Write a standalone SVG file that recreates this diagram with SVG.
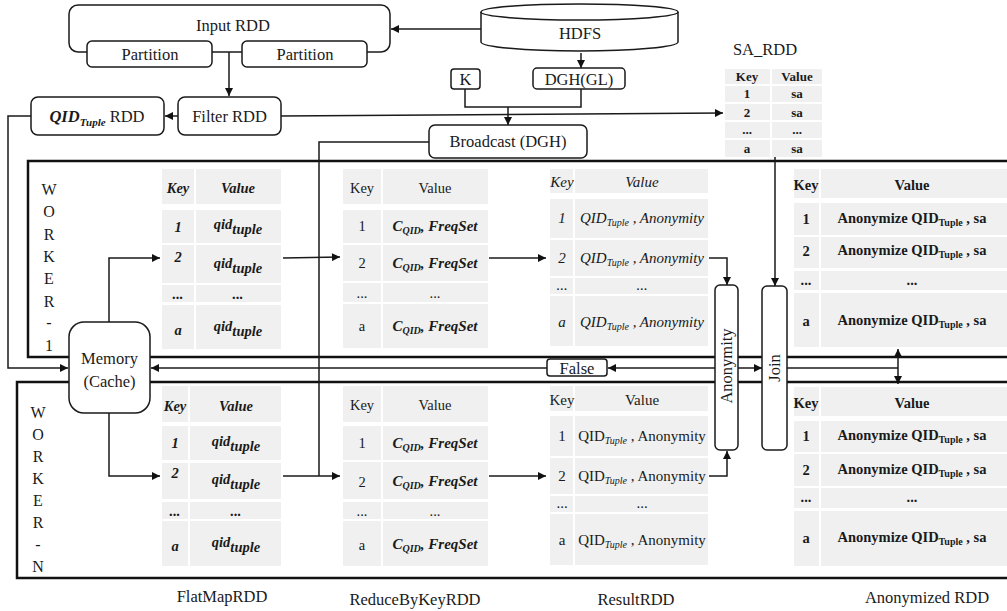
<svg xmlns="http://www.w3.org/2000/svg" width="1007" height="611" viewBox="0 0 1007 611">
<defs>
<marker id="ah" viewBox="0 0 10 10" refX="10" refY="5" markerWidth="9" markerHeight="8" markerUnits="userSpaceOnUse" orient="auto-start-reverse"><path d="M0,0 L10,5 L0,10 z" fill="#111"/></marker>
<style>
text{font-family:"Liberation Serif","DejaVu Serif",serif;fill:#1a1a1a;text-anchor:middle}
.lbl{font-size:16.5px}
.box{fill:#fff;stroke:#1a1a1a;stroke-width:1.5}
.wk{fill:none;stroke:#111;stroke-width:2.5}
.c{fill:#f0f0f0}
.t{font-size:14.5px}
.b{font-weight:bold}
.i{font-style:italic}
.bi{font-weight:bold;font-style:italic}
.ln{fill:none;stroke:#1a1a1a;stroke-width:1.5}
.ar{fill:none;stroke:#1a1a1a;stroke-width:1.5;marker-end:url(#ah)}
.wl{font-size:16px}
.cap{font-size:16.5px}
</style>
</defs>

<!-- worker frames -->
<g id="worker-1"><rect class="wk" x="28" y="161" width="1000" height="196"/>
<g class="wl"><text x="49" y="195" class="wl">W</text><text x="49" y="217" class="wl">O</text><text x="49" y="240" class="wl">R</text><text x="49" y="262" class="wl">K</text><text x="49" y="284" class="wl">E</text><text x="49" y="307" class="wl">R</text><text x="49" y="328" class="wl">-</text><text x="49" y="351" class="wl">1</text></g></g>
<g id="worker-n"><rect class="wk" x="17" y="382" width="1010" height="196"/>
<g><text x="38" y="418" class="wl">W</text><text x="38" y="440" class="wl">O</text><text x="38" y="462" class="wl">R</text><text x="38" y="484" class="wl">K</text><text x="38" y="506" class="wl">E</text><text x="38" y="528" class="wl">R</text><text x="38" y="550" class="wl">-</text><text x="38" y="572" class="wl">N</text></g></g>

<!-- top nodes -->
<g id="input-rdd"><rect class="box" x="69" y="5" width="321" height="47" rx="9"/><text class="lbl" x="233" y="31">Input RDD</text>
<rect class="box" x="87" y="41" width="125" height="26" rx="5"/><text class="lbl" x="150" y="60">Partition</text>
<rect class="box" x="242" y="41" width="125" height="26" rx="5"/><text class="lbl" x="305" y="60">Partition</text></g>
<g id="hdfs"><path class="box" d="M481,12 V42 A98.5,9 0 0 0 678,42 V12"/><ellipse class="box" cx="579.5" cy="12" rx="98.5" ry="8"/><text class="lbl" x="580" y="39">HDFS</text></g>
<g id="k"><rect class="box" x="451" y="69" width="29" height="20" rx="3"/><text class="lbl" x="465.5" y="85">K</text></g>
<g id="dgh"><rect class="box" x="533" y="68" width="92" height="21" rx="4"/><text class="lbl" x="579" y="85">DGH(GL)</text></g>
<g id="broadcast"><rect class="box" x="429" y="125" width="158" height="33" rx="6"/><text class="lbl" x="508" y="147">Broadcast (DGH)</text></g>
<g id="filter-rdd"><rect class="box" x="178" y="97" width="103" height="38" rx="7"/><text class="lbl" x="229.5" y="122">Filter RDD</text></g>
<g id="qid-rdd"><rect class="box" x="31" y="97" width="133" height="38" rx="7"/><text class="lbl" x="97" y="122"><tspan class="bi">QID</tspan><tspan class="bi" font-size="11" dy="4">Tuple</tspan><tspan dy="-4"> RDD</tspan></text></g>

<g id="sa-rdd"><text class="lbl" x="765" y="55">SA_RDD</text>
<rect class="c" x="725" y="69" width="45" height="15"/><rect class="c" x="772" y="69" width="50" height="15"/>
<rect class="c" x="725" y="86" width="45" height="16"/><rect class="c" x="772" y="86" width="50" height="16"/>
<rect class="c" x="725" y="104" width="45" height="16"/><rect class="c" x="772" y="104" width="50" height="16"/>
<rect class="c" x="725" y="122" width="45" height="16"/><rect class="c" x="772" y="122" width="50" height="16"/>
<rect class="c" x="725" y="140" width="45" height="17"/><rect class="c" x="772" y="140" width="50" height="17"/>
<g font-size="13"><text x="747" y="81" class="b">Key</text><text x="797" y="81" class="b">Value</text>
<text x="747" y="98" class="b">1</text><text x="797" y="98" class="b">sa</text>
<text x="747" y="117" class="b">2</text><text x="797" y="117" class="b">sa</text>
<text x="747" y="134" class="b">...</text><text x="797" y="134" class="b">...</text>
<text x="747" y="153" class="b">a</text><text x="797" y="153" class="b">sa</text></g></g>

<!-- Worker-1 tables -->
<g id="flatmap-1">
<rect class="c" x="162" y="169" width="32" height="35"/><rect class="c" x="196" y="169" width="85" height="35"/>
<rect class="c" x="162" y="210" width="32" height="33"/><rect class="c" x="196" y="210" width="85" height="33"/>
<rect class="c" x="162" y="245" width="32" height="38"/><rect class="c" x="196" y="245" width="85" height="38"/>
<rect class="c" x="162" y="285" width="32" height="17"/><rect class="c" x="196" y="285" width="85" height="17"/>
<rect class="c" x="162" y="305" width="32" height="44"/><rect class="c" x="196" y="305" width="85" height="44"/>
<g class="t bi"><text x="178" y="193">Key</text><text x="238" y="193">Value</text>
<text x="178" y="232">1</text><text x="238" y="229">qid<tspan dy="5">tuple</tspan></text>
<text x="178" y="262">2</text><text x="238" y="268">qid<tspan dy="5">tuple</tspan></text>
<text x="178" y="299">...</text><text x="238" y="299">...</text>
<text x="178" y="335">a</text><text x="238" y="331">qid<tspan dy="5">tuple</tspan></text></g></g>

<g id="reduce-1">
<rect class="c" x="343" y="169" width="38" height="35"/><rect class="c" x="383" y="169" width="105" height="35"/>
<rect class="c" x="343" y="210" width="38" height="33"/><rect class="c" x="383" y="210" width="105" height="33"/>
<rect class="c" x="343" y="245" width="38" height="36"/><rect class="c" x="383" y="245" width="105" height="36"/>
<rect class="c" x="343" y="283" width="38" height="19"/><rect class="c" x="383" y="283" width="105" height="19"/>
<rect class="c" x="343" y="304" width="38" height="44"/><rect class="c" x="383" y="304" width="105" height="44"/>
<g class="t"><text x="362" y="193">Key</text><text x="435" y="193">Value</text>
<text x="362" y="231">1</text><text x="362" y="268">2</text><text x="362" y="298">...</text><text x="362" y="331">a</text><text x="435" y="298">...</text></g>
<g class="bi" font-size="15"><text x="435" y="231">C<tspan font-size="10" dy="3">QID</tspan><tspan dy="-3">, FreqSet</tspan></text>
<text x="435" y="268">C<tspan font-size="10" dy="3">QID</tspan><tspan dy="-3">, FreqSet</tspan></text>
<text x="435" y="331">C<tspan font-size="10" dy="3">QID</tspan><tspan dy="-3">, FreqSet</tspan></text></g></g>

<g id="result-1">
<rect class="c" x="550" y="169" width="23" height="24"/><rect class="c" x="575" y="169" width="133" height="24"/>
<rect class="c" x="550" y="199" width="23" height="39"/><rect class="c" x="575" y="199" width="133" height="39"/>
<rect class="c" x="550" y="240" width="23" height="36"/><rect class="c" x="575" y="240" width="133" height="36"/>
<rect class="c" x="550" y="278" width="23" height="16"/><rect class="c" x="575" y="278" width="133" height="16"/>
<rect class="c" x="550" y="296" width="23" height="50"/><rect class="c" x="575" y="296" width="133" height="50"/>
<g class="i" font-size="15"><text x="562" y="187">Key</text><text x="642" y="187">Value</text>
<text x="562" y="223">1</text><text x="642" y="223">QID<tspan font-size="10" dy="3">Tuple</tspan><tspan dy="-3"> , Anonymity</tspan></text>
<text x="562" y="263">2</text><text x="642" y="263">QID<tspan font-size="10" dy="3">Tuple</tspan><tspan dy="-3"> , Anonymity</tspan></text>
<text x="562" y="290">...</text><text x="642" y="290">...</text>
<text x="562" y="327">a</text><text x="642" y="327">QID<tspan font-size="10" dy="3">Tuple</tspan><tspan dy="-3"> , Anonymity</tspan></text></g></g>

<g id="anon-1">
<rect class="c" x="794" y="169" width="25" height="29"/><rect class="c" x="821" y="169" width="186" height="29"/>
<rect class="c" x="794" y="203" width="25" height="32"/><rect class="c" x="821" y="203" width="186" height="32"/>
<rect class="c" x="794" y="237" width="25" height="31"/><rect class="c" x="821" y="237" width="186" height="31"/>
<rect class="c" x="794" y="271" width="25" height="19"/><rect class="c" x="821" y="271" width="186" height="19"/>
<rect class="c" x="794" y="293" width="25" height="54"/><rect class="c" x="821" y="293" width="186" height="54"/>
<g class="t b"><text x="806" y="190">Key</text><text x="912" y="190">Value</text>
<text x="806" y="224">1</text><text x="912" y="223">Anonymize QID<tspan font-size="10" dy="3">Tuple</tspan><tspan dy="-3"> , sa</tspan></text>
<text x="806" y="256">2</text><text x="912" y="255">Anonymize QID<tspan font-size="10" dy="3">Tuple</tspan><tspan dy="-3"> , sa</tspan></text>
<text x="806" y="285">...</text><text x="912" y="285">...</text>
<text x="806" y="326">a</text><text x="912" y="325">Anonymize QID<tspan font-size="10" dy="3">Tuple</tspan><tspan dy="-3"> , sa</tspan></text></g></g>

<!-- Worker-N tables -->
<g id="flatmap-n">
<rect class="c" x="162" y="386" width="26" height="36"/><rect class="c" x="190" y="386" width="91" height="36"/>
<rect class="c" x="162" y="426" width="26" height="34"/><rect class="c" x="190" y="426" width="91" height="34"/>
<rect class="c" x="162" y="463" width="26" height="36"/><rect class="c" x="190" y="463" width="91" height="36"/>
<rect class="c" x="162" y="502" width="26" height="17"/><rect class="c" x="190" y="502" width="91" height="17"/>
<rect class="c" x="162" y="521" width="26" height="45"/><rect class="c" x="190" y="521" width="91" height="45"/>
<g class="t bi"><text x="175" y="411">Key</text><text x="236" y="411">Value</text>
<text x="175" y="448">1</text><text x="236" y="446">qid<tspan dy="5">tuple</tspan></text>
<text x="175" y="478">2</text><text x="236" y="484">qid<tspan dy="5">tuple</tspan></text>
<text x="175" y="516">...</text><text x="236" y="516">...</text>
<text x="175" y="551">a</text><text x="236" y="547">qid<tspan dy="5">tuple</tspan></text></g></g>

<g id="reduce-n">
<rect class="c" x="343" y="386" width="38" height="36"/><rect class="c" x="383" y="386" width="105" height="36"/>
<rect class="c" x="343" y="426" width="38" height="34"/><rect class="c" x="383" y="426" width="105" height="34"/>
<rect class="c" x="343" y="462" width="38" height="37"/><rect class="c" x="383" y="462" width="105" height="37"/>
<rect class="c" x="343" y="502" width="38" height="17"/><rect class="c" x="383" y="502" width="105" height="17"/>
<rect class="c" x="343" y="521" width="38" height="45"/><rect class="c" x="383" y="521" width="105" height="45"/>
<g class="t"><text x="362" y="410">Key</text><text x="435" y="410">Value</text>
<text x="362" y="448">1</text><text x="362" y="487">2</text><text x="362" y="516">...</text><text x="362" y="550">a</text><text x="435" y="516">...</text></g>
<g class="bi" font-size="15"><text x="435" y="448">C<tspan font-size="10" dy="3">QID</tspan><tspan dy="-3">, FreqSet</tspan></text>
<text x="435" y="486">C<tspan font-size="10" dy="3">QID</tspan><tspan dy="-3">, FreqSet</tspan></text>
<text x="435" y="549">C<tspan font-size="10" dy="3">QID</tspan><tspan dy="-3">, FreqSet</tspan></text></g></g>

<g id="result-n">
<rect class="c" x="550" y="386" width="23" height="25"/><rect class="c" x="575" y="386" width="133" height="25"/>
<rect class="c" x="550" y="416" width="23" height="40"/><rect class="c" x="575" y="416" width="133" height="40"/>
<rect class="c" x="550" y="458" width="23" height="36"/><rect class="c" x="575" y="458" width="133" height="36"/>
<rect class="c" x="550" y="496" width="23" height="16"/><rect class="c" x="575" y="496" width="133" height="16"/>
<rect class="c" x="550" y="514" width="23" height="51"/><rect class="c" x="575" y="514" width="133" height="51"/>
<g font-size="15"><text x="562" y="405">Key</text><text x="642" y="405">Value</text>
<text x="562" y="441">1</text><text x="642" y="441">QID<tspan class="i" font-size="10" dy="3">Tuple</tspan><tspan dy="-3"> , Anonymity</tspan></text>
<text x="562" y="481">2</text><text x="642" y="481">QID<tspan class="i" font-size="10" dy="3">Tuple</tspan><tspan dy="-3"> , Anonymity</tspan></text>
<text x="562" y="508">...</text><text x="642" y="508">...</text>
<text x="562" y="545">a</text><text x="642" y="545">QID<tspan class="i" font-size="10" dy="3">Tuple</tspan><tspan dy="-3"> , Anonymity</tspan></text></g></g>

<g id="anon-n">
<rect class="c" x="794" y="387" width="25" height="29"/><rect class="c" x="821" y="387" width="186" height="29"/>
<rect class="c" x="794" y="421" width="25" height="31"/><rect class="c" x="821" y="421" width="186" height="31"/>
<rect class="c" x="794" y="454" width="25" height="32"/><rect class="c" x="821" y="454" width="186" height="32"/>
<rect class="c" x="794" y="488" width="25" height="20"/><rect class="c" x="821" y="488" width="186" height="20"/>
<rect class="c" x="794" y="511" width="25" height="55"/><rect class="c" x="821" y="511" width="186" height="55"/>
<g class="t b"><text x="806" y="408">Key</text><text x="912" y="408">Value</text>
<text x="806" y="441">1</text><text x="912" y="440">Anonymize QID<tspan font-size="10" dy="3">Tuple</tspan><tspan dy="-3"> , sa</tspan></text>
<text x="806" y="475">2</text><text x="912" y="474">Anonymize QID<tspan font-size="10" dy="3">Tuple</tspan><tspan dy="-3"> , sa</tspan></text>
<text x="806" y="502">...</text><text x="912" y="502">...</text>
<text x="806" y="543">a</text><text x="912" y="542">Anonymize QID<tspan font-size="10" dy="3">Tuple</tspan><tspan dy="-3"> , sa</tspan></text></g></g>

<!-- connectors -->
<g id="connectors">
<path class="ar" d="M481,29 H391"/>
<path class="ar" d="M229,52 V96"/>
<path class="ar" d="M178,116 H165"/>
<path class="ar" d="M581,53 V68"/>
<path class="ln" d="M465,89 V107 H581 V89"/>
<path class="ar" d="M508,107 V125"/>
<path class="ar" d="M281,116 L723,113"/>
<path class="ar" d="M31,116 H8 V368 H68"/>
<path class="ln" d="M429,142 H319 V476" stroke="#333"/>
<path class="ar" d="M109,322 V258 H160"/>
<path class="ar" d="M109,413 V476 H160"/>
<path class="ar" d="M283,258 L340,257"/>
<path class="ar" d="M489,258 H546"/>
<path class="ar" d="M283,476 H340"/>
<path class="ar" d="M489,476 H546"/>
<path class="ar" d="M709,258 H727 V285"/>
<path class="ar" d="M709,476 H727 V451"/>
<path class="ar" d="M775,157 V286"/>
<path class="ar" d="M715,368 H608"/>
<path class="ar" d="M547,368 H151"/>
<path class="ar" d="M738,368 H762"/>
<path class="ln" d="M787,368 H898"/>
<path class="ar" d="M898,368 V349"/>
<path class="ar" d="M898,368 V384"/>
</g>

<g id="memory"><rect class="box" x="69" y="322" width="81" height="91" rx="15"/><text class="lbl" x="109.5" y="364">Memory</text><text class="lbl" x="109.5" y="387">(Cache)</text></g>
<g id="false"><rect class="box" x="547" y="359" width="60" height="17" rx="3"/><text class="lbl" x="577" y="374">False</text></g>
<g id="anonymity"><rect class="box" x="715" y="285" width="23" height="165" rx="5"/><text class="lbl" transform="translate(732,366) rotate(-90)">Anonymity</text></g>
<g id="join"><rect class="box" x="762" y="286" width="25" height="164" rx="5"/><text class="lbl" transform="translate(780,368) rotate(-90)">Join</text></g>

<g id="captions"><text class="cap" x="222" y="602">FlatMapRDD</text><text class="cap" x="415" y="605">ReduceByKeyRDD</text><text class="cap" x="636" y="605">ResultRDD</text><text class="cap" x="927" y="603">Anonymized RDD</text></g>
</svg>
